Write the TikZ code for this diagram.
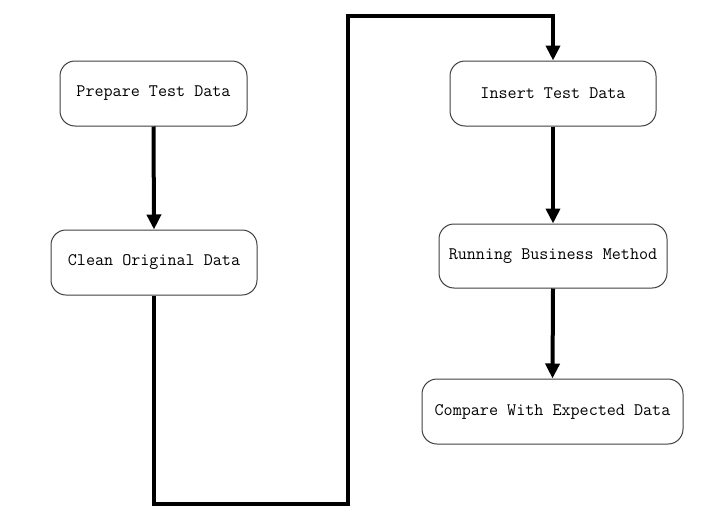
\documentclass[tikz,border=0pt]{standalone}
\usepackage{fontspec}
\usetikzlibrary{arrows.meta}
\tikzset{
  box/.style={draw=black!75, line width=1pt, rounded corners=15pt, fill=white,
    font=\fontsize{17.6pt}{20pt}\ttfamily, inner sep=0pt},
  conn/.style={line width=4pt, -{Triangle[width=14pt,length=15pt]}}
}
\begin{document}
\begin{tikzpicture}[x=1pt,y=-1pt]
\useasboundingbox (0,0) rectangle (703,530);
\node[box, minimum width=187pt, minimum height=65pt] (prep) at (153.5,93.5) {Prepare Test Data};
\node[box, minimum width=206pt, minimum height=65pt] (clean) at (154,262.5) {Clean Original Data};
\node[box, minimum width=206pt, minimum height=65pt] (insert) at (553,93.5) {Insert Test Data};
\node[box, minimum width=228pt, minimum height=64pt] (run) at (553,256) {Running Business Method};
\node[box, minimum width=261pt, minimum height=65pt] (cmp) at (552.5,411.5) {Compare With Expected Data};
\coordinate (b1) at (154,504);
\coordinate (b2) at (348,504);
\coordinate (t1) at (348,16);
\coordinate (t2) at (553,16);
\draw[conn] (prep.south) -- (clean.north);
\draw[conn] (clean.south) -- (b1) -- (b2) -- (t1) -- (t2) -- (insert.north);
\draw[conn] (insert.south) -- (run.north);
\draw[conn] (run.south) -- (cmp.north);
\end{tikzpicture}
\end{document}
